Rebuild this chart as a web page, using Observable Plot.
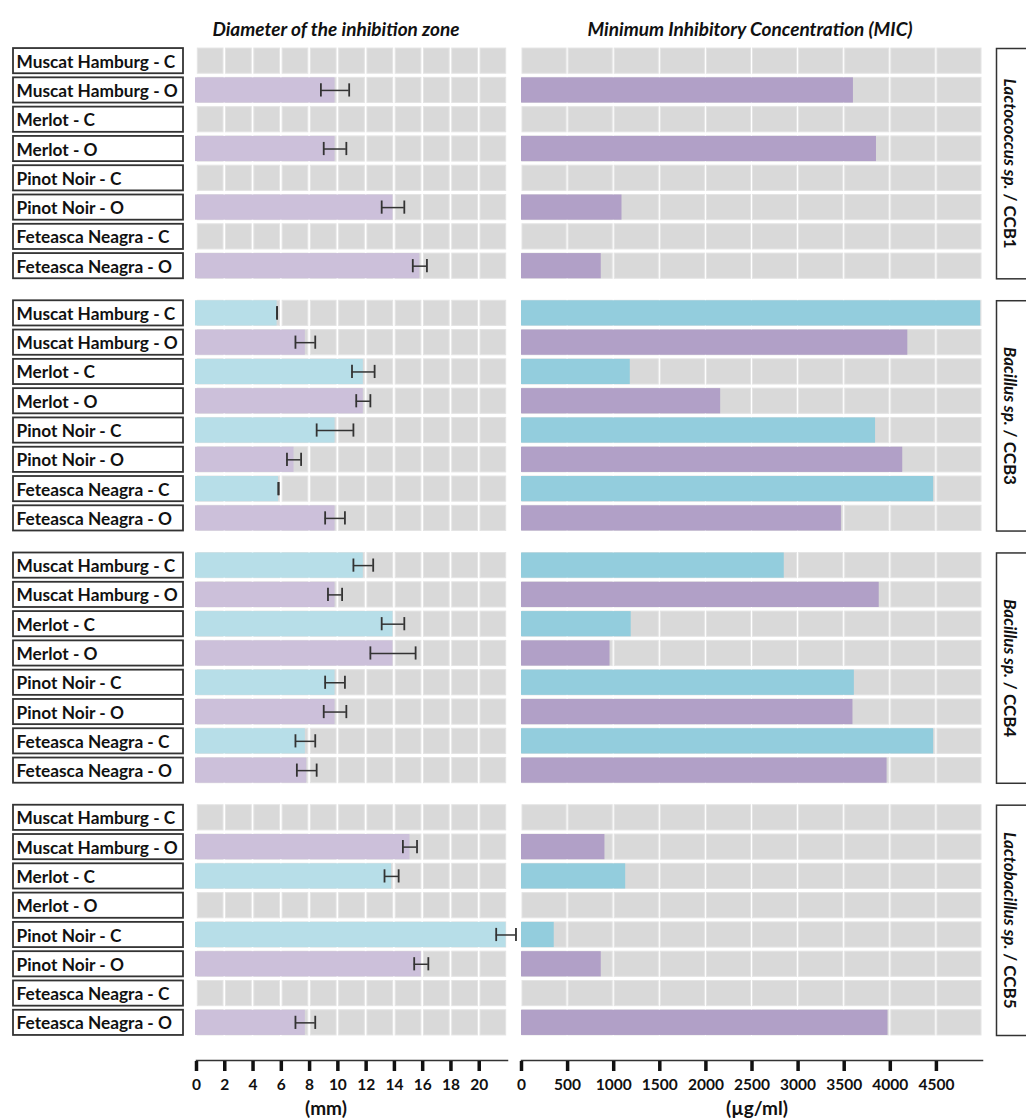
<!DOCTYPE html>
<html>
<head>
<meta charset="utf-8">
<script src="https://cdn.jsdelivr.net/npm/d3@7"></script>
<script src="https://cdn.jsdelivr.net/npm/@observablehq/plot@0.6"></script>
<style>
  html, body { margin: 0; padding: 0; background: #fff; overflow: hidden; }
  #page { position: relative; width: 1026px; height: 1120px; overflow: hidden; font-family: Lato, "Open Sans", sans-serif; color: #111; }
  .abs { position: absolute; }
  .abs svg { max-width: none !important; }
  .t { position: absolute; transform: translate(-50%, -50%); white-space: nowrap; font-weight: bold; }
  .title { font-style: italic; font-size: 19px; }
  .unit { font-size: 19px; }
</style>
</head>
<body>
<div id="page">
  <div class="t title" style="left:336px; top:28px;">Diameter of the inhibition zone</div>
  <div class="t title" style="left:750px; top:28px;">Minimum Inhibitory Concentration (MIC)</div>
  <div class="t unit" style="left:326px; top:1107px;">(mm)</div>
  <div class="t unit" style="left:757px; top:1107px;">(µg/ml)</div>
  <div id="labels" class="abs" style="left:0px; top:0px; width:190px;"></div>
  <div id="mm" class="abs" style="left:190px; top:0px; width:330px;"></div>
  <div id="mic" class="abs" style="left:515px; top:0px; width:480px;"></div>
  <div id="strip" class="abs" style="left:990px; top:0px; width:80px;"></div>
  <div id="mmAxis" class="abs" style="left:190px; top:1050px; width:330px;"></div>
  <div id="micAxis" class="abs" style="left:515px; top:1050px; width:480px;"></div>
</div>
<script>
// ---------- data ----------
const groups = ["Lactococcus sp. / CCB1", "Bacillus sp. / CCB3", "Bacillus sp. / CCB4", "Lactobacillus sp. / CCB5"];
const samples = ["Muscat Hamburg - C", "Muscat Hamburg - O", "Merlot - C", "Merlot - O",
                 "Pinot Noir - C", "Pinot Noir - O", "Feteasca Neagra - C", "Feteasca Neagra - O"];

// Diameter of the inhibition zone (mm) and its error
const diameterCCB1 = [0, 9.8, 0, 9.8, 0, 13.9, 0, 15.8];
const diameterErrCCB1 = [0, 1.0, 0, 0.8, 0, 0.8, 0, 0.5];
const diameterCCB3 = [5.7, 7.7, 11.8, 11.8, 9.8, 6.9, 5.8, 9.8];
const diameterErrCCB3 = [0, 0.7, 0.8, 0.5, 1.3, 0.5, 0, 0.7];
const diameterCCB4 = [11.8, 9.8, 13.9, 13.9, 9.8, 9.8, 7.7, 7.8];
const diameterErrCCB4 = [0.7, 0.5, 0.8, 1.6, 0.7, 0.8, 0.7, 0.7];
const diameterCCB5 = [0, 15.1, 13.8, 0, 21.9, 15.9, 0, 7.7];
const diameterErrCCB5 = [0, 0.5, 0.5, 0, 0.7, 0.5, 0, 0.7];

// Minimum Inhibitory Concentration (µg/ml)
const micCCB1 = [0, 3600, 0, 3850, 0, 1090, 0, 865];
const micCCB3 = [4980, 4190, 1180, 2160, 3840, 4135, 4470, 3470];
const micCCB4 = [2850, 3880, 1190, 960, 3610, 3595, 4470, 3965];
const micCCB5 = [0, 905, 1130, 0, 355, 865, 0, 3975];

// axis ticks
const mmTicks = [0, 2, 4, 6, 8, 10, 12, 14, 16, 18, 20];
const mmMax = 22;
const micTicks = [0, 500, 1000, 1500, 2000, 2500, 3000, 3500, 4000, 4500];
const micMax = 5000;

// colours
const colC_mm = "#b7dee8", colO_mm = "#ccc0da";
const colC_mic = "#93cddd", colO_mic = "#b1a0c7";
const cellGrey = "#d9d9d9";

// ---------- table ----------
const diameters = [diameterCCB1, diameterCCB3, diameterCCB4, diameterCCB5];
const diameterErrs = [diameterErrCCB1, diameterErrCCB3, diameterErrCCB4, diameterErrCCB5];
const mics = [micCCB1, micCCB3, micCCB4, micCCB5];

const rows = groups.flatMap((g, gi) => samples.map((s, si) => ({
  group: g, sample: s, type: s.slice(-1),
  diameter: diameters[gi][si], err: diameterErrs[gi][si], mic: mics[gi][si]
})));

function cellsFor(ticks, max) {
  const edges = [...ticks, max];
  const out = [];
  for (const r of rows) for (let i = 0; i < edges.length - 1; i++) out.push({group: r.group, sample: r.sample, x1: edges[i], x2: edges[i + 1]});
  return out;
}

// ---------- shared layout ----------
const H = 1040, TOP = 46, BOTTOM = 3;
const fyOpt = {domain: groups, paddingInner: 0.071, paddingOuter: 0, round: false, axis: null};
const yOpt = {domain: samples, paddingInner: 0.14, paddingOuter: 0.07, round: false, axis: null};
const font = "Lato, 'Open Sans', sans-serif";
const baseStyle = {fontFamily: font, background: "transparent", maxWidth: "none", overflow: "visible"};

// labels
const labels = Plot.plot({
  width: 190, height: H, marginLeft: 13, marginRight: 7, marginTop: TOP, marginBottom: BOTTOM,
  style: baseStyle,
  fy: fyOpt, y: yOpt,
  marks: [
    Plot.cell(rows, {fy: "group", y: "sample", fill: "white", stroke: "#333", strokeWidth: 1.8}),
    Plot.text(rows, {fy: "group", y: "sample", text: "sample", frameAnchor: "left", textAnchor: "start",
      dx: 3, dy: 1, fontSize: 17.3, fontWeight: "bold", fill: "#111"})
  ]
});
document.getElementById("labels").append(labels);

// diameter panel
const withD = rows.filter(d => d.diameter > 0);
const mm = Plot.plot({
  width: 330, height: H, marginLeft: 6, marginRight: 13, marginTop: TOP, marginBottom: BOTTOM,
  style: baseStyle,
  fy: fyOpt, y: yOpt,
  x: {domain: [0, mmMax], axis: null},
  color: {domain: ["C", "O"], range: [colC_mm, colO_mm]},
  marks: [
    Plot.rectX(cellsFor(mmTicks, mmMax), {fy: "group", y: "sample", x1: "x1", x2: "x2", fill: cellGrey,
      stroke: "#e4e4e4", strokeWidth: 1, insetLeft: 1.3, insetRight: 1.3}),
    Plot.barX(withD, {fy: "group", y: "sample", x: "diameter", fill: "type", insetLeft: -1}),
    Plot.ruleY(withD, {fy: "group", y: "sample", x1: d => d.diameter - d.err, x2: d => d.diameter + d.err,
      stroke: "#333", strokeWidth: 1.5}),
    Plot.tickX(withD, {fy: "group", y: "sample", x: d => d.diameter - d.err, insetTop: 6, insetBottom: 6,
      stroke: "#333", strokeWidth: 1.8}),
    Plot.tickX(withD, {fy: "group", y: "sample", x: d => d.diameter + d.err, insetTop: 6, insetBottom: 6,
      stroke: "#333", strokeWidth: 1.8})
  ]
});
document.getElementById("mm").append(mm);

// MIC panel
const withM = rows.filter(d => d.mic > 0);
const mic = Plot.plot({
  width: 480, height: H, marginLeft: 6, marginRight: 13, marginTop: TOP, marginBottom: BOTTOM,
  style: baseStyle,
  fy: fyOpt, y: yOpt,
  x: {domain: [0, micMax], axis: null},
  color: {domain: ["C", "O"], range: [colC_mic, colO_mic]},
  marks: [
    Plot.rectX(cellsFor(micTicks, micMax), {fy: "group", y: "sample", x1: "x1", x2: "x2", fill: cellGrey,
      stroke: "#e4e4e4", strokeWidth: 1, insetLeft: 1, insetRight: 1}),
    Plot.barX(withM, {fy: "group", y: "sample", x: "mic", fill: "type"})
  ]
});
document.getElementById("mic").append(mic);

// strip labels
const strip = Plot.plot({
  width: 80, height: H, marginLeft: 6, marginRight: 0, marginTop: TOP, marginBottom: BOTTOM,
  style: baseStyle,
  fy: fyOpt,
  marks: [
    Plot.frame({stroke: "#333", strokeWidth: 1.5, insetTop: 2, insetBottom: 2}),
    Plot.text(groups, {fy: d => d, text: d => d, frameAnchor: "left", textAnchor: "middle", dx: 13, rotate: 90,
      fontSize: 17, fontWeight: "bold", fill: "#111"})
  ]
});
document.getElementById("strip").append(strip);
d3.select(strip).selectAll("text").each(function() {
  const t = this.textContent;
  const i = t.indexOf("/");
  if (i < 0) return;
  const sel = d3.select(this);
  sel.text(null);
  sel.append("tspan").attr("font-style", "italic").text(t.slice(0, i));
  sel.append("tspan").text(t.slice(i));
});

// axes
function axisPlot(ticks, max, w) {
  return Plot.plot({
    width: w, height: 70,
    marginLeft: 6, marginRight: 13, marginTop: 10, marginBottom: 59,
    style: baseStyle,
    x: {domain: [0, max], axis: null},
    marks: [
      Plot.frame({anchor: "top", stroke: "#333", strokeWidth: 1.5}),
      Plot.axisX({ticks, anchor: "bottom", tickSize: 10, strokeWidth: 3.5, tickPadding: 7,
        tickFormat: d => String(d), color: "#111", fontSize: 15.5, fontWeight: "bold", label: null})
    ]
  });
}
document.getElementById("mmAxis").append(axisPlot(mmTicks, mmMax, 330));
document.getElementById("micAxis").append(axisPlot(micTicks, micMax, 480));
</script>
</body>
</html>
